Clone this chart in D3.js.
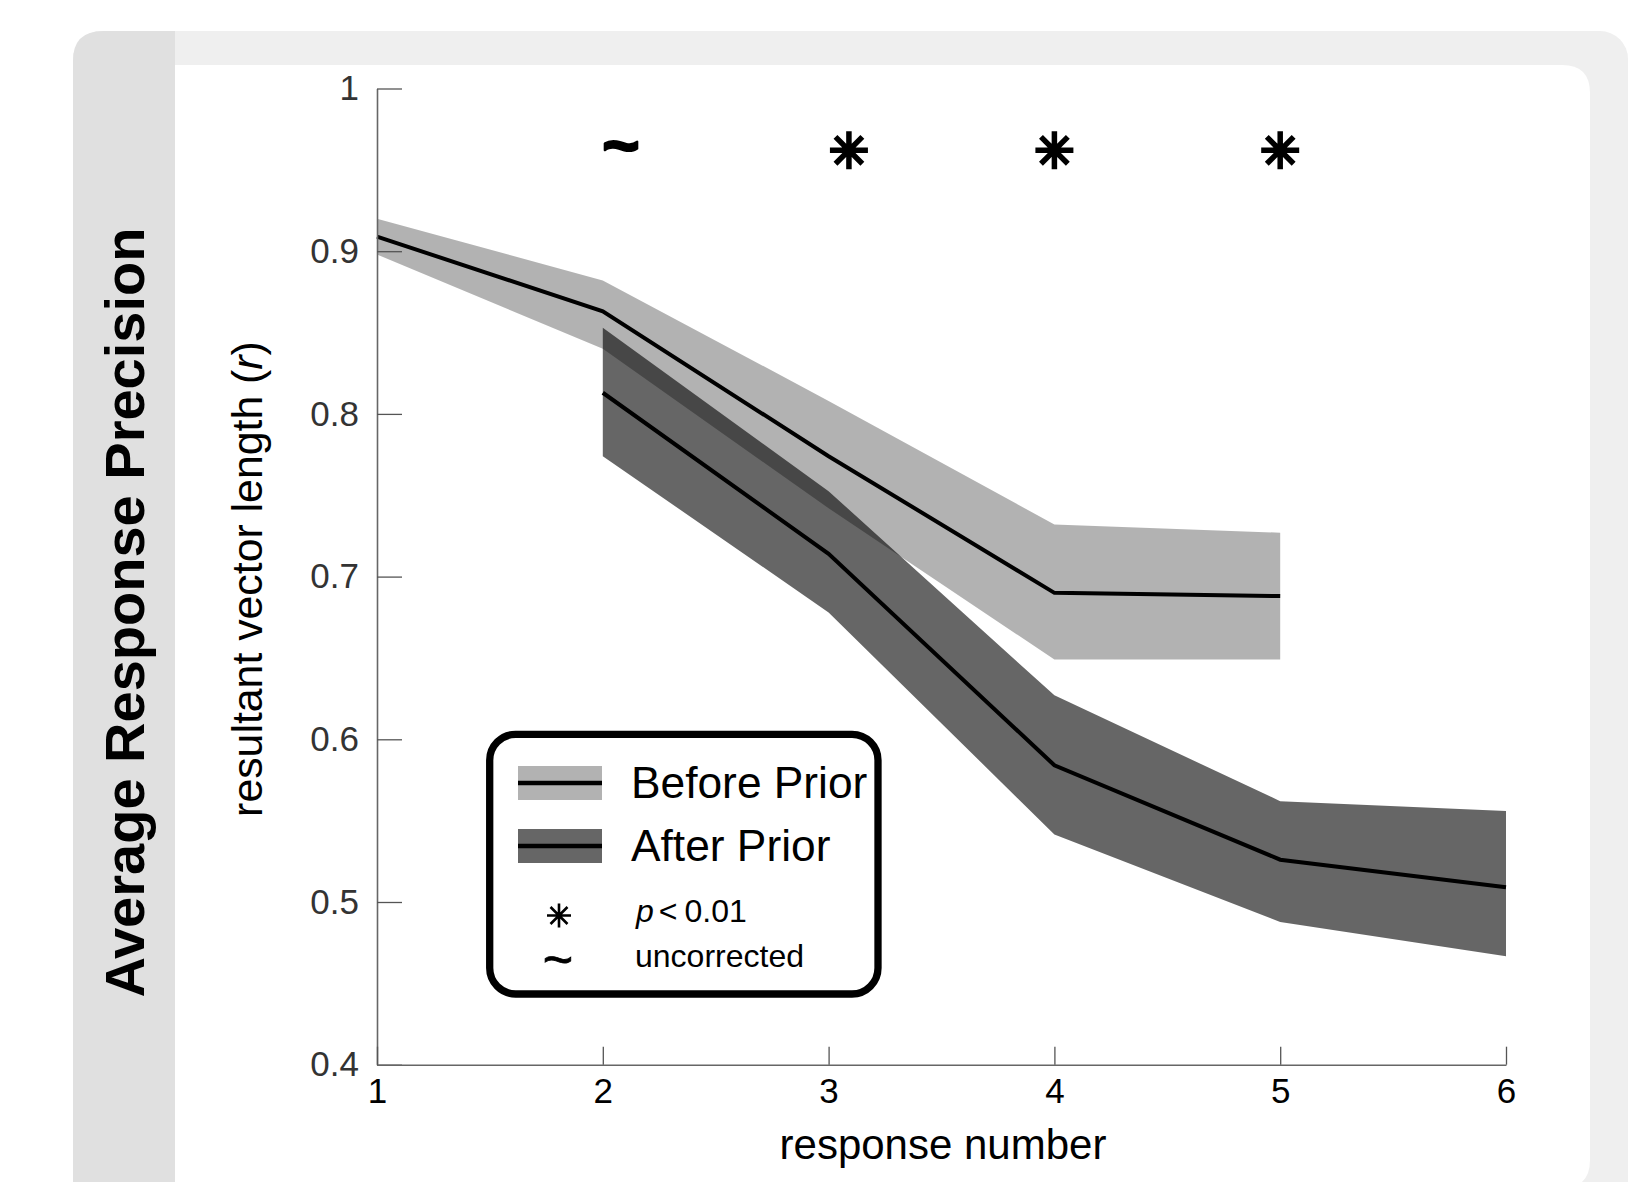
<!DOCTYPE html>
<html>
<head>
<meta charset="utf-8">
<script src="https://cdn.jsdelivr.net/npm/d3@7"></script>
<style>
  html, body { margin: 0; padding: 0; background: #ffffff; }
  svg { display: block; font-family: "Liberation Sans", Arial, Helvetica, sans-serif; }
</style>
</head>
<body>
<svg id="chart" width="1632" height="1182"></svg>
<script>
// Response number on the x axis
const beforeX = [1, 2, 3, 4, 5];
const afterX  = [2, 3, 4, 5, 6];

// Mean resultant vector length and its shaded error band
const beforeMean  = [0.909, 0.863, 0.774, 0.690, 0.688];
const beforeUpper = [0.920, 0.882, 0.808, 0.732, 0.727];
const beforeLower = [0.898, 0.840, 0.742, 0.649, 0.649];

const afterMean  = [0.813, 0.714, 0.584, 0.526, 0.509];
const afterUpper = [0.853, 0.7525, 0.627, 0.562, 0.556];
const afterLower = [0.774, 0.678, 0.5415, 0.4877, 0.4666];

// Significance markers above the curves
const sigX     = [2.08, 3.09, 4.0, 5.0];
const sigMark  = ["~", "*", "*", "*"];
const sigLevel = 0.962;

// Axis ticks
const xTicks = [1, 2, 3, 4, 5, 6];
const yTicks = [0.4, 0.5, 0.6, 0.7, 0.8, 0.9, 1];
const yTickLabels = ["0.4", "0.5", "0.6", "0.7", "0.8", "0.9", "1"];

// Legend entries
const seriesNames = ["Before Prior", "After Prior"];
const noteLabels = ["p < 0.01", "uncorrected"];

const svg = d3.select("#chart");

// ---- panel background ----
const bg = svg.append("g");
bg.append("rect").attr("x", 73).attr("y", 31).attr("width", 1555).attr("height", 1250)
  .attr("rx", 28).attr("fill", "#efefef");
// side strip holding the title, rounded only at its top-left
bg.append("path")
  .attr("d", "M73,1290 L73,61 Q73,31 103,31 L175,31 L175,1290 Z")
  .attr("fill", "#e0e0e0");
// white plotting card, rounded on the right
bg.append("path")
  .attr("d", "M175,65 L1562,65 Q1590,65 1590,93 L1590,1160 Q1590,1188 1562,1188 L175,1188 Z")
  .attr("fill", "#ffffff");

// ---- title ----
svg.append("text")
  .attr("transform", "translate(144,612.5) rotate(-90)")
  .attr("text-anchor", "middle")
  .attr("font-weight", "bold")
  .attr("font-size", 56)
  .attr("fill", "#000")
  .text("Average Response Precision");

// ---- scales ----
const x = d3.scaleLinear().domain([1, 6]).range([377, 1506]);
const y = d3.scaleLinear().domain([0.4, 1]).range([1064.7, 88.5]);

// ---- bands ----
function bandData(xs, lo, hi) { return xs.map((v, i) => ({x: v, lo: lo[i], hi: hi[i]})); }
const area = d3.area().x(d => x(d.x)).y0(d => y(d.lo)).y1(d => y(d.hi));
const line = d3.line().x(d => x(d.x)).y(d => y(d.m));

svg.append("path").datum(bandData(beforeX, beforeLower, beforeUpper))
  .attr("d", area).attr("fill", "#000").attr("fill-opacity", 0.3);
svg.append("path").datum(bandData(afterX, afterLower, afterUpper))
  .attr("d", area).attr("fill", "#000").attr("fill-opacity", 0.6);

svg.append("path").datum(beforeX.map((v, i) => ({x: v, m: beforeMean[i]})))
  .attr("d", line).attr("fill", "none").attr("stroke", "#000").attr("stroke-width", 4);
svg.append("path").datum(afterX.map((v, i) => ({x: v, m: afterMean[i]})))
  .attr("d", line).attr("fill", "none").attr("stroke", "#000").attr("stroke-width", 4);

// ---- axes ----
const yAxis = d3.axisLeft(y).tickValues(yTicks)
  .tickFormat((d, i) => yTickLabels[i]).tickSize(-25).tickSizeOuter(0).tickPadding(18);
const gy = svg.append("g").attr("transform", "translate(377,0)").call(yAxis);
gy.select(".domain").attr("stroke", "#666").attr("stroke-width", 1.6);
gy.selectAll(".tick line").attr("stroke", "#555").attr("stroke-width", 1.3);
gy.selectAll(".tick text").attr("font-size", 35).attr("fill", "#333")
  .attr("font-family", "'Liberation Sans', Arial, sans-serif");

const xAxis = d3.axisBottom(x).tickValues(xTicks)
  .tickFormat(d3.format("d")).tickSize(-18).tickSizeOuter(0).tickPadding(13);
const gx = svg.append("g").attr("transform", "translate(0,1064.7)").call(xAxis);
gx.select(".domain").attr("stroke", "#666").attr("stroke-width", 1.6);
gx.selectAll(".tick line").attr("stroke", "#555").attr("stroke-width", 1.3);
gx.selectAll(".tick text").attr("font-size", 35).attr("fill", "#000")
  .attr("font-family", "'Liberation Sans', Arial, sans-serif");

// ---- axis labels ----
svg.append("text")
  .attr("x", 943).attr("y", 1159)
  .attr("text-anchor", "middle").attr("font-size", 42).attr("fill", "#000")
  .text("response number");

const yl = svg.append("text")
  .attr("transform", "translate(262,579) rotate(-90)")
  .attr("text-anchor", "middle").attr("font-size", 42.8).attr("fill", "#000");
yl.append("tspan").text("resultant vector length (");
yl.append("tspan").attr("font-style", "italic").text("r");
yl.append("tspan").text(")");

// ---- significance markers ----
function asteriskPath(h) {
  const d = h * Math.SQRT1_2;
  return `M0,${-h}L0,${h}M${-h},0L${h},0M${-d},${-d}L${d},${d}M${-d},${d}L${d},${-d}`;
}
const sig = svg.append("g");
sigX.forEach((sx, i) => {
  const cx = x(sx), cy = y(sigLevel);
  if (sigMark[i] === "*") {
    sig.append("path").attr("d", asteriskPath(19))
      .attr("transform", `translate(${cx},${cy})`)
      .attr("stroke", "#000").attr("stroke-width", 5.5).attr("fill", "none");
  } else {
    sig.append("text").attr("x", cx).attr("y", cy + 17)
      .attr("text-anchor", "middle").attr("font-weight", "bold")
      .attr("font-size", 64).attr("fill", "#000")
      .attr("stroke", "#000").attr("stroke-width", 2.2).attr("stroke-linejoin", "round")
      .text("~");
  }
});

// ---- legend ----
const lg = svg.append("g");
lg.append("rect").attr("x", 489.7).attr("y", 734.3).attr("width", 388.3).attr("height", 259.7)
  .attr("rx", 26).attr("fill", "#fff").attr("stroke", "#000").attr("stroke-width", 7.3);

const swatchOpacity = [0.3, 0.6];
const rowY = [783, 846];
seriesNames.forEach((name, i) => {
  lg.append("rect").attr("x", 518).attr("y", rowY[i] - 17).attr("width", 84).attr("height", 34)
    .attr("fill", "#000").attr("fill-opacity", swatchOpacity[i]);
  lg.append("line").attr("x1", 518).attr("x2", 602).attr("y1", rowY[i]).attr("y2", rowY[i])
    .attr("stroke", "#000").attr("stroke-width", 4.5);
  lg.append("text").attr("x", 631).attr("y", rowY[i] + 15)
    .attr("font-size", 44.3).attr("fill", "#000").text(name);
});

// note rows: asterisk marker for p < 0.01 and tilde for uncorrected
lg.append("path").attr("d", asteriskPath(12))
  .attr("transform", "translate(559,915.5)")
  .attr("stroke", "#000").attr("stroke-width", 2.6).attr("fill", "none");
lg.append("text").attr("x", 558).attr("y", 977)
  .attr("text-anchor", "middle").attr("font-size", 52).attr("fill", "#000")
  .attr("stroke", "#000").attr("stroke-width", 0.8).text("~");

const pt = lg.append("text").attr("x", 636).attr("y", 922)
  .attr("font-size", 32).attr("fill", "#000");
const pParts = noteLabels[0].split(" ");
pt.append("tspan").attr("font-style", "italic").text(pParts[0]);
pt.append("tspan").attr("dx", 5).text(pParts[1]);
pt.append("tspan").attr("dx", 7).text(pParts[2]);
lg.append("text").attr("x", 635).attr("y", 967)
  .attr("font-size", 32).attr("fill", "#000").text(noteLabels[1]);
</script>
</body>
</html>
